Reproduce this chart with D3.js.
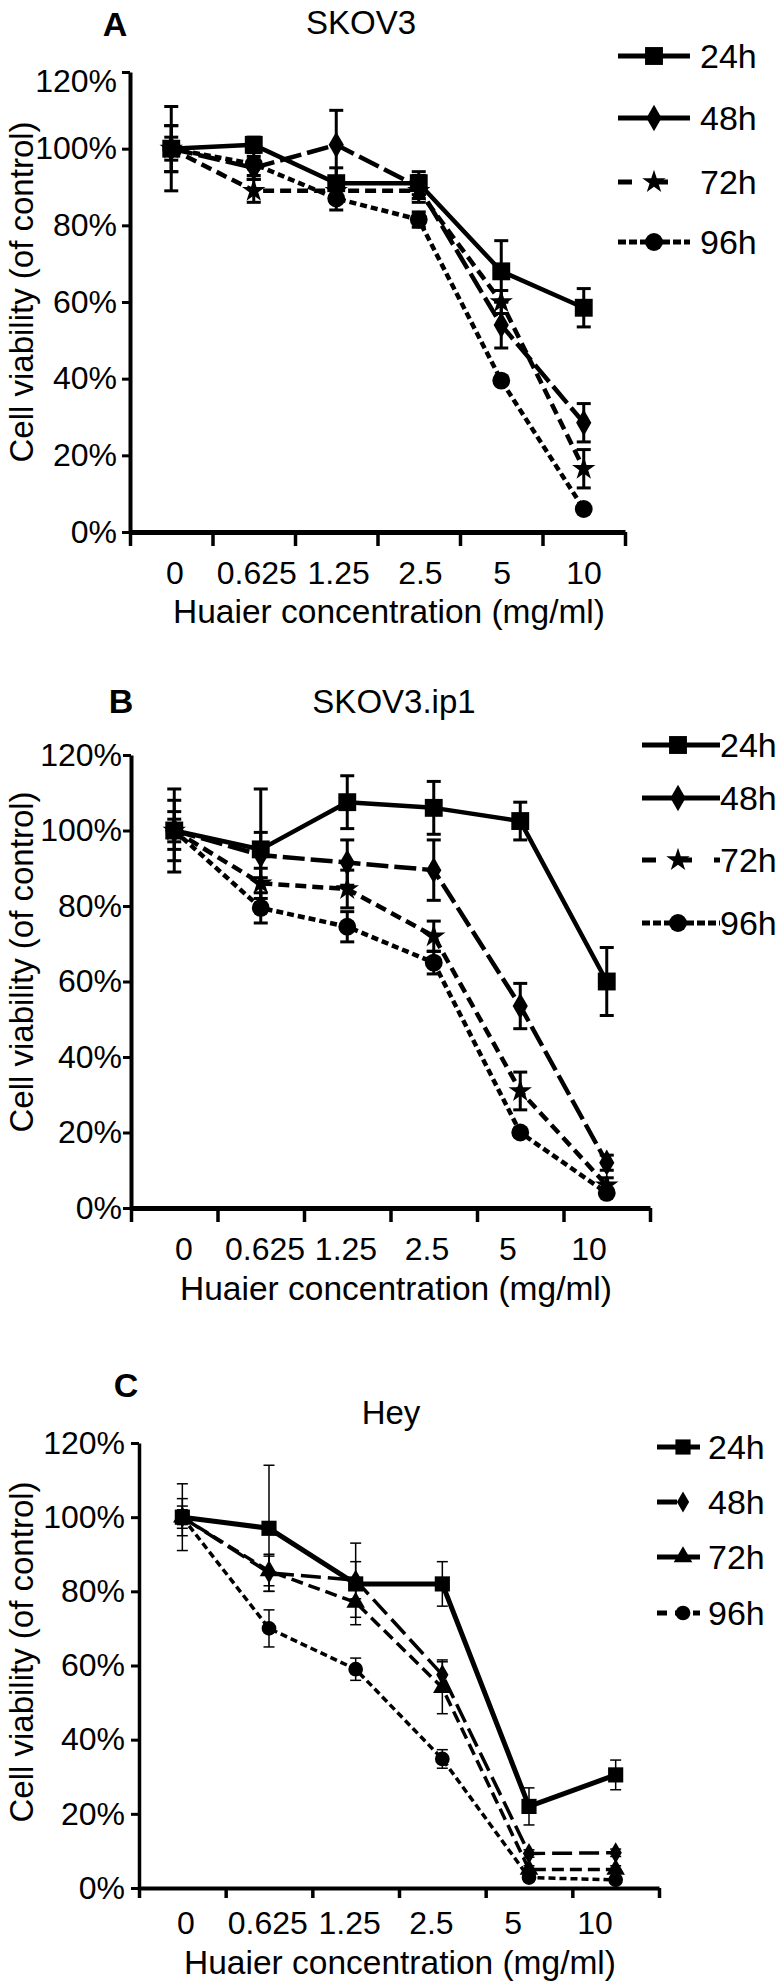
<!DOCTYPE html>
<html><head><meta charset="utf-8">
<script src="https://cdn.jsdelivr.net/npm/d3@7"></script>
<style>
body{margin:0;background:#fff}
svg{display:block}
text{font-family:"Liberation Sans",Arial,Helvetica,sans-serif;fill:#000}
</style>
</head><body>
<svg id="chart" width="781" height="1987"></svg>
<script>
// ---------- DATA ----------
const categories = ["0", "0.625", "1.25", "2.5", "5", "10"];
const seriesNames = ["24h", "48h", "72h", "96h"];
const yTickValues = [0, 20, 40, 60, 80, 100, 120];

// Panel A: SKOV3
const skov3_24h = [100, 101, 91, 91, 68, 58.5];
const skov3_48h = [100, 95, 101, 90, 54, 28.5];
const skov3_72h = [100, 89, 89, 89, 60, 16.5];
const skov3_96h = [100, 96, 87, 81.5, 39.5, 6];
const skov3_24h_err = [6, 2, 4, 3, 8, 5];
const skov3_48h_err = [11, 3, 9, 3, 6, 5];
const skov3_72h_err = [6, 3, 3, 3, 3, 5];
const skov3_96h_err = [3, 3, 3, 2, 1, 1];

// Panel B: SKOV3.ip1
const ip1_24h = [100, 95, 107.5, 106, 102.5, 60];
const ip1_48h = [100, 93.5, 91.5, 89.5, 53.5, 12];
const ip1_72h = [100, 86, 84.5, 72, 31, 6];
const ip1_96h = [100, 79.5, 74.5, 65, 20, 4];
const ip1_24h_err = [11, 16, 7, 7, 5, 9];
const ip1_48h_err = [8, 6, 6, 8, 6, 2];
const ip1_72h_err = [5, 4, 5, 4, 5, 2];
const ip1_96h_err = [3, 4, 4, 3, 1, 1];

// Panel C: Hey
const hey_24h = [100, 97, 82, 82, 22, 30.5];
const hey_48h = [100, 85, 83, 57.5, 9.3, 9.5];
const hey_72h = [100, 85.5, 77, 54, 5, 5];
const hey_96h = [100, 70, 59, 34.8, 2.8, 2.2];
const hey_24h_err = [9, 17, 11, 6, 5, 4];
const hey_48h_err = [3, 5, 5, 4, 1, 1];
const hey_72h_err = [5, 4, 4, 7, 1, 1];
const hey_96h_err = [2, 5, 3, 2.5, 1, 1];

// ---------- LAYOUT / STYLE ----------
const panels = [
  {
    letter: "A", title: "SKOV3",
    values: [skov3_24h, skov3_48h, skov3_72h, skov3_96h],
    errors: [skov3_24h_err, skov3_48h_err, skov3_72h_err, skov3_96h_err],
    shapes: [d3.symbolSquare, d3.symbolDiamond, d3.symbolStar, d3.symbolCircle],
    sizes: [320, 200, 170, 250],
    L: {x0: 130, x1: 625, y0: 532, y120: 72, lab0: 175, lab1: 584, xTickLabY: 572, xLabY: 611,
        xLabX: 389, yLabX: 21, yLabY: 292, letterX: 115, letterY: 24, titleX: 361, titleY: 22,
        legX0: 618, legX1: 690, legM: 654, legT: 700, legY: [56, 118, 182, 242],
        axisW: 5, yAxisW: 4, xTick: 14, yTick: 8, yLabRight: 117, topDy: 9,
        lineW: [4.5, 4.5, 4.5, 4.5], errW: 3, cap: 14},
    dash: [null, "22,6", "11,6", "7,4"],
    legDash: [null, null, "14,22", "8,3"]
  },
  {
    letter: "B", title: "SKOV3.ip1",
    values: [ip1_24h, ip1_48h, ip1_72h, ip1_96h],
    errors: [ip1_24h_err, ip1_48h_err, ip1_72h_err, ip1_96h_err],
    shapes: [d3.symbolSquare, d3.symbolDiamond, d3.symbolStar, d3.symbolCircle],
    sizes: [320, 200, 170, 250],
    L: {x0: 131, x1: 650, y0: 1208, y120: 755, lab0: 184, lab1: 589, xTickLabY: 1248, xLabY: 1288,
        xLabX: 396, yLabX: 21, yLabY: 962, letterX: 121, letterY: 701, titleX: 394, titleY: 701,
        legX0: 642, legX1: 720, legM: 678, legT: 720, legY: [745, 798, 860, 923],
        axisW: 5, yAxisW: 4, xTick: 14, yTick: 8, yLabRight: 122, topDy: 0,
        lineW: [4.5, 4.5, 4.5, 4.5], errW: 3, cap: 14},
    dash: [null, "22,6", "11,6", "7,4"],
    legDash: [null, null, "14,22", "8,3"]
  },
  {
    letter: "C", title: "Hey",
    values: [hey_24h, hey_48h, hey_72h, hey_96h],
    errors: [hey_24h_err, hey_48h_err, hey_72h_err, hey_96h_err],
    shapes: [d3.symbolSquare, d3.symbolDiamond, d3.symbolTriangle, d3.symbolCircle],
    sizes: [230, 130, 150, 170],
    L: {x0: 139, x1: 659, y0: 1888, y120: 1443, lab0: 186, lab1: 595, xTickLabY: 1922, xLabY: 1962,
        xLabX: 400, yLabX: 21, yLabY: 1652, letterX: 126, letterY: 1385, titleX: 391, titleY: 1412,
        legX0: 657, legX1: 700, legM: 683, legT: 708, legY: [1447, 1502, 1557, 1613],
        axisW: 4, yAxisW: 3.5, xTick: 10, yTick: 8, yLabRight: 125, topDy: 0,
        lineW: [5, 3.5, 3.5, 3.5], errW: 1.5, cap: 11},
    dash: [null, "20,7", "12,6", "7,4"],
    legDash: [null, "20,26,3,40", "15,0", "10,8"]
  }
];

const svg = d3.select("#chart");
svg.append("rect").attr("width", 781).attr("height", 1987).attr("fill", "#fff");

panels.forEach(p => {
  const L = p.L;
  const g = svg.append("g");
  const x = d3.scaleBand().domain(categories).range([L.x0, L.x1]).padding(0);
  const xEdge = d3.scaleLinear().domain([0, categories.length]).range([L.x0, L.x1]);
  const xLab = d3.scalePoint().domain(categories).range([L.lab0, L.lab1]);
  const y = d3.scaleLinear().domain([0, 120]).range([L.y0, L.y120]);
  const cx = c => x(c) + x.bandwidth() / 2;

  // Letter and title
  g.append("text").attr("x", L.letterX).attr("y", L.letterY).attr("dy", "0.36em")
    .attr("text-anchor", "middle").attr("font-size", 34).attr("font-weight", "bold").text(p.letter);
  g.append("text").attr("x", L.titleX).attr("y", L.titleY).attr("dy", "0.36em")
    .attr("text-anchor", "middle").attr("font-size", 33).text(p.title);

  // Y axis
  const gy = g.append("g").attr("transform", `translate(${L.x0},0)`)
    .call(d3.axisLeft(y).tickValues(yTickValues).tickFormat(d => d + "%")
      .tickSizeInner(L.yTick).tickSizeOuter(0).tickPadding(L.x0 - L.yLabRight - L.yTick));
  gy.attr("font-family", null).attr("font-size", null);
  gy.select(".domain").attr("stroke", "#000").attr("stroke-width", L.yAxisW);
  gy.selectAll(".tick line").attr("stroke", "#000").attr("stroke-width", 3);
  gy.selectAll(".tick text").attr("font-size", 32).attr("fill", "#000")
    .attr("dy", d => d === 120 ? (0.32 * 32 + L.topDy) + "px" : "0.32em");

  // X axis (ticks at category boundaries)
  const gx = g.append("g").attr("transform", `translate(0,${L.y0})`)
    .call(d3.axisBottom(xEdge).tickValues(d3.range(categories.length + 1)).tickFormat("")
      .tickSizeInner(L.xTick).tickSizeOuter(0));
  gx.select(".domain").attr("stroke", "#000").attr("stroke-width", L.axisW);
  gx.selectAll(".tick line").attr("stroke", "#000").attr("stroke-width", 3.5);

  g.selectAll(null).data(categories).join("text")
    .attr("x", d => xLab(d)).attr("y", L.xTickLabY).attr("dy", "0.36em")
    .attr("text-anchor", "middle").attr("font-size", 32).text(d => d);

  // Axis titles
  g.append("text").attr("x", L.xLabX).attr("y", L.xLabY).attr("dy", "0.36em")
    .attr("text-anchor", "middle").attr("font-size", 33.5).text("Huaier concentration (mg/ml)");
  g.append("text").attr("transform", `translate(${L.yLabX},${L.yLabY}) rotate(-90)`)
    .attr("dy", "0.36em").attr("text-anchor", "middle").attr("font-size", 33)
    .text("Cell viability (of control)");

  // Error bars
  p.values.forEach((vals, si) => {
    const errs = p.errors[si];
    const eg = g.append("g").attr("stroke", "#000").attr("stroke-width", L.errW);
    vals.forEach((v, i) => {
      const xx = cx(categories[i]);
      const yt = y(v + errs[i]), yb = y(v - errs[i]);
      eg.append("line").attr("x1", xx).attr("x2", xx).attr("y1", yt).attr("y2", yb);
      eg.append("line").attr("x1", xx - L.cap / 2).attr("x2", xx + L.cap / 2).attr("y1", yt).attr("y2", yt);
      eg.append("line").attr("x1", xx - L.cap / 2).attr("x2", xx + L.cap / 2).attr("y1", yb).attr("y2", yb);
    });
  });

  // Lines
  const line = d3.line().x((d, i) => cx(categories[i])).y(d => y(d));
  p.values.forEach((vals, si) => {
    g.append("path").datum(vals).attr("d", line).attr("fill", "none")
      .attr("stroke", "#000").attr("stroke-width", L.lineW[si])
      .attr("stroke-dasharray", p.dash[si]).attr("stroke-linejoin", "round");
  });

  // Markers
  p.values.forEach((vals, si) => {
    const sym = d3.symbol().type(p.shapes[si]).size(p.sizes[si]);
    g.selectAll(null).data(vals).join("path")
      .attr("d", sym)
      .attr("transform", (d, i) => `translate(${cx(categories[i])},${y(d)})`)
      .attr("fill", "#000");
  });

  // Legend
  seriesNames.forEach((name, si) => {
    const ly = L.legY[si];
    g.append("line").attr("x1", L.legX0).attr("x2", L.legX1).attr("y1", ly).attr("y2", ly)
      .attr("stroke", "#000").attr("stroke-width", 5).attr("stroke-dasharray", p.legDash[si]);
    g.append("path").attr("d", d3.symbol().type(p.shapes[si]).size(p.sizes[si])())
      .attr("transform", `translate(${L.legM},${ly})`).attr("fill", "#000");
    g.append("text").attr("x", L.legT).attr("y", ly).attr("dy", "0.36em")
      .attr("font-size", 34).text(name);
  });
});
</script>
</body></html>
